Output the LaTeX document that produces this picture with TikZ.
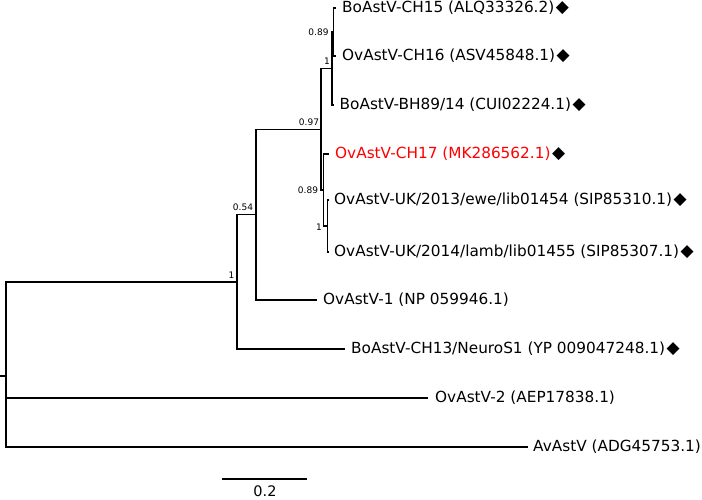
\documentclass[tikz,border=0pt]{standalone}
\usepackage{fontspec}
\setmainfont{DejaVu Sans}
\definecolor{hired}{RGB}{255,0,0}
\newcommand{\dmd}{\hspace{1.5pt}{\fontsize{17}{18}\selectfont ◆}}
\begin{document}
\begin{tikzpicture}[x=1pt,y=-1pt,
  br/.style={line width=1.4pt},
  leaf/.style={anchor=west, inner sep=0pt, font=\fontsize{15.3}{18}\selectfont},
  supp/.style={inner sep=0pt, font=\fontsize{9}{10}\selectfont}]
\useasboundingbox (0,0) rectangle (702,499);
% internal nodes
\coordinate (rt) at (0,376);
\coordinate (root) at (6,376);
\coordinate (A) at (237,282);
\coordinate (B) at (256,214.5);
\coordinate (C) at (321,129.5);
\coordinate (D) at (332,68.5);
\coordinate (F) at (333.5,32);
\coordinate (E) at (323.5,190);
\coordinate (G) at (327.5,226);
% tips
\coordinate (l1) at (336,8);
\coordinate (l2) at (336,56);
\coordinate (l3) at (333.5,105);
\coordinate (l4) at (329,154);
\coordinate (l5) at (329,200);
\coordinate (l6) at (329,252);
\coordinate (l7) at (317,300);
\coordinate (l8) at (345,349);
\coordinate (l9) at (428,398);
\coordinate (l10) at (528,447);
% branches
\draw[br] (rt) -- (root);
\draw[br] (root) |- (A);
\draw[br] (root) |- (l9);
\draw[br] (root) |- (l10);
\draw[br] (A) |- (B);
\draw[br] (A) |- (l8);
\draw[br] (B) |- (C);
\draw[br] (B) |- (l7);
\draw[br] (C) |- (D);
\draw[br] (C) |- (E);
\draw[br] (D) |- (F);
\draw[br] (D) |- (l3);
\draw[br] (F) |- (l1);
\draw[br] (F) |- (l2);
\draw[br] (E) |- (l4);
\draw[br] (E) |- (G);
\draw[br] (G) |- (l5);
\draw[br] (G) |- (l6);
% tip labels
\node[leaf] (t1) at ([xshift=6pt]l1) {BoAstV-CH15 (ALQ33326.2)\dmd};
\node[leaf] (t2) at ([xshift=6pt]l2) {OvAstV-CH16 (ASV45848.1)\dmd};
\node[leaf] (t3) at ([xshift=6pt]l3) {BoAstV-BH89/14 (CUI02224.1)\dmd};
\node[leaf] (t4) at ([xshift=6pt]l4) {\textcolor{hired}{OvAstV-CH17 (MK286562.1)}\dmd};
\node[leaf] (t5) at ([xshift=5pt]l5) {OvAstV-UK/2013/ewe/lib01454 (SIP85310.1)\dmd};
\node[leaf] (t6) at ([xshift=5pt]l6) {OvAstV-UK/2014/lamb/lib01455 (SIP85307.1)\dmd};
\node[leaf] (t7) at ([xshift=6pt]l7) {OvAstV-1 (NP 059946.1)};
\node[leaf] (t8) at ([xshift=6pt]l8) {BoAstV-CH13/NeuroS1 (YP 009047248.1)\dmd};
\node[leaf] (t9) at ([xshift=7pt]l9) {OvAstV-2 (AEP17838.1)};
\node[leaf] (t10) at ([xshift=5pt]l10) {AvAstV (ADG45753.1)};
% support values
\node[supp] (sF) at (318.5,32) {0.89};
\node[supp] (sD) at (327,61) {1};
\node[supp] (sC) at (309,122) {0.97};
\node[supp] (sE) at (308,190.5) {0.89};
\node[supp] (sG) at (319,227) {1};
\node[supp] (sB) at (243,207) {0.54};
\node[supp] (sA) at (231.5,275) {1};
% scale bar
\coordinate (s1) at (222,479);
\coordinate (s2) at (307,479);
\draw[br] (s1) -- (s2);
\node[inner sep=0pt, font=\fontsize{14.5}{17}\selectfont] (sl) at (265,491) {0.2};
\end{tikzpicture}
\end{document}
